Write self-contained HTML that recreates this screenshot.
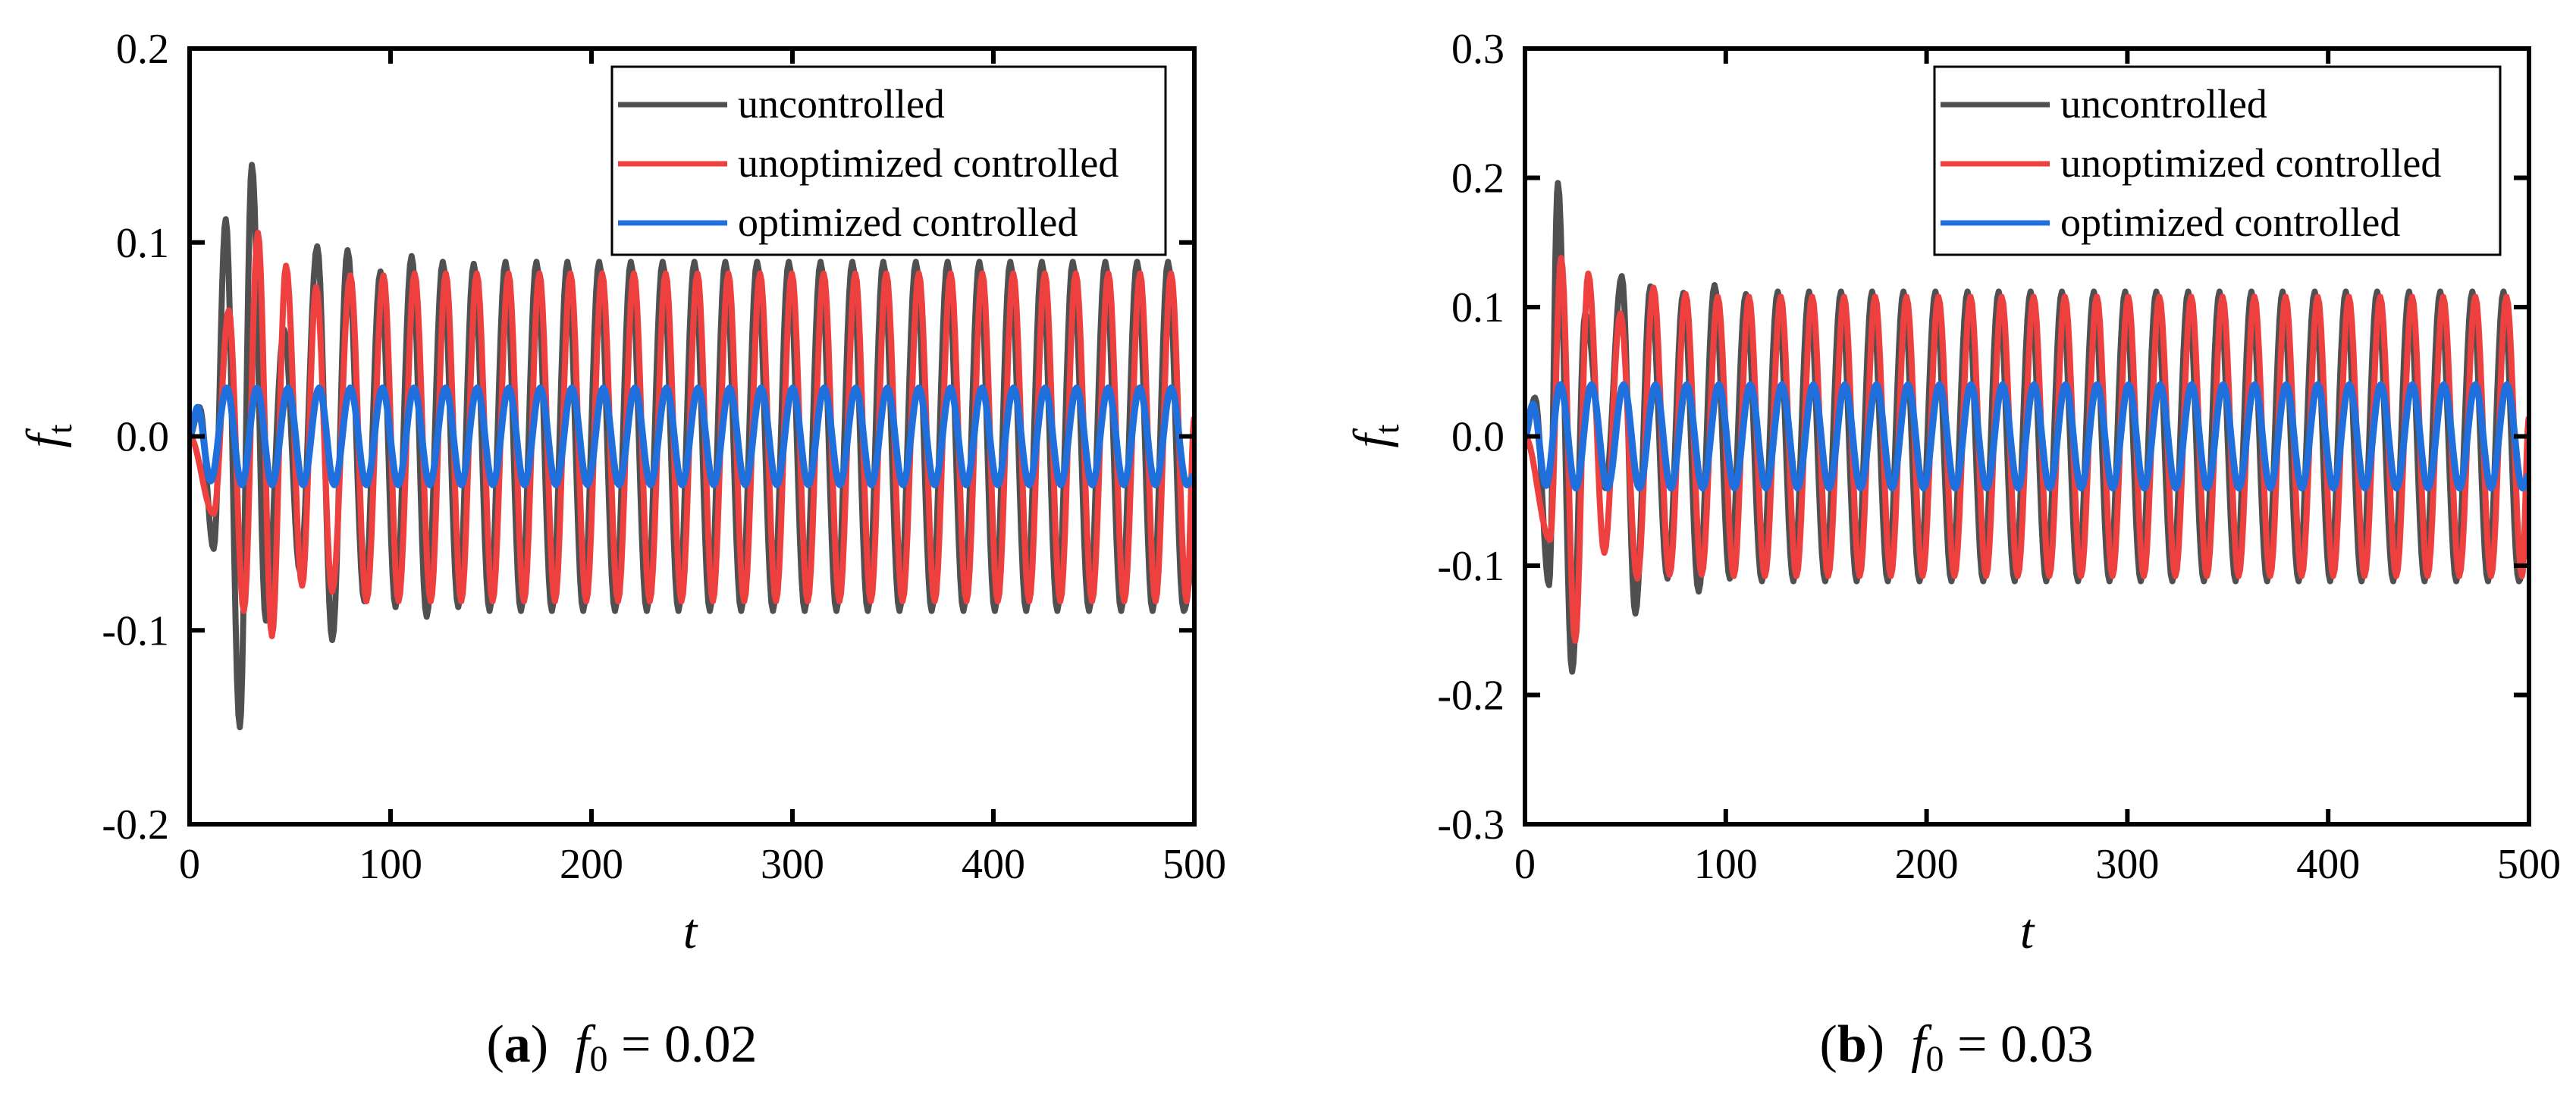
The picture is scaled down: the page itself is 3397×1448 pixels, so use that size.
<!DOCTYPE html>
<html><head><meta charset="utf-8"><style>
html,body{margin:0;padding:0;background:#fff;}
svg{display:block;font-family:"Liberation Serif",serif;}
</style></head><body>
<svg id="fig" width="3397" height="1448" viewBox="0 0 3397 1448"></svg>
<script>
// ---------- DATA (extrema) ----------
// Panel (a) f0 = 0.02
const a_unc_peakT = [5,18,31,47,63.5,78.6,95,110.5,126,141.4,157.2,172.6,188,203.8,219.6,235.4,251.2,266.6,282.4,298.2,314,329.8,345.2,361.4,377.2,393,408.4,424.1,439.5,455.7,471.5,486.9];
const a_unc_peakV = [0.015,0.112,0.14,0.055,0.098,0.096,0.085,0.093,0.09,0.089,0.09,0.09,0.09,0.09,0.09,0.09,0.09,0.09,0.09,0.09,0.09,0.09,0.09,0.09,0.09,0.09,0.09,0.09,0.09,0.09,0.09,0.09];
const a_unc_trT = [12,25,38,55,71,87,102.5,118,133.7,149.3,164.9,180.3,195.9,211.7,227.5,243.3,258.9,274.5,290.3,306.1,321.9,337.5,353.3,369.3,385.1,400.7,416.3,431.8,447.6,463.6,479.2,494.7];
const a_unc_trV = [-0.058,-0.15,-0.095,-0.07,-0.105,-0.085,-0.088,-0.093,-0.088,-0.09,-0.09,-0.09,-0.09,-0.09,-0.09,-0.09,-0.09,-0.09,-0.09,-0.09,-0.09,-0.09,-0.09,-0.09,-0.09,-0.09,-0.09,-0.09,-0.09,-0.09,-0.09,-0.09];
const a_unc_end = -0.06;

const a_uno_peakT = [19.5,34,48,63,80,96.5,112,127.5,142.9,158.7,174.1,189.5,205.3,221.1,236.9,252.7,268.1,283.9,299.7,315.5,331.3,346.7,362.9,378.7,394.5,409.9,425.6,441,457.2,473,488.4];
const a_uno_peakV = [0.065,0.105,0.088,0.077,0.083,0.083,0.084,0.084,0.084,0.084,0.084,0.084,0.084,0.084,0.084,0.084,0.084,0.084,0.084,0.084,0.084,0.084,0.084,0.084,0.084,0.084,0.084,0.084,0.084,0.084,0.084];
const a_uno_trT = [12,27,41,56,71,88,104,120,135.2,150.8,166.4,181.8,197.4,213.2,229,244.8,260.4,276,291.8,307.6,323.4,339,354.8,370.8,386.6,402.2,417.8,433.3,449.1,465.1,480.7,496.2];
const a_uno_trV = [-0.04,-0.09,-0.103,-0.077,-0.08,-0.085,-0.085,-0.085,-0.085,-0.085,-0.085,-0.085,-0.085,-0.085,-0.085,-0.085,-0.085,-0.085,-0.085,-0.085,-0.085,-0.085,-0.085,-0.085,-0.085,-0.085,-0.085,-0.085,-0.085,-0.085,-0.085,-0.085];
const a_uno_end = 0.01;

const a_opt_peakT = [4,18.5,33.5,49,64.5,80,96,111.7,127.4,143.1,158.8,174.5,190.2,205.9,221.6,237.3,253,268.7,284.4,300.1,315.8,331.5,347.2,362.9,378.6,394.3,410,425.7,441.4,457.1,472.8,488.5];
const a_opt_peakV = [0.015,0.025,0.025,0.025,0.025,0.025,0.025,0.025,0.025,0.025,0.025,0.025,0.025,0.025,0.025,0.025,0.025,0.025,0.025,0.025,0.025,0.025,0.025,0.025,0.025,0.025,0.025,0.025,0.025,0.025,0.025,0.025];
const a_opt_trT = [10.5,26,41,56.5,72,88,103.8,119.5,135.2,150.9,166.6,182.3,198,213.7,229.4,245.1,260.8,276.5,292.2,307.9,323.6,339.3,355,370.7,386.4,402.1,417.8,433.5,449.2,464.9,480.6,496.3];
const a_opt_trV = [-0.023,-0.025,-0.025,-0.025,-0.025,-0.025,-0.025,-0.025,-0.025,-0.025,-0.025,-0.025,-0.025,-0.025,-0.025,-0.025,-0.025,-0.025,-0.025,-0.025,-0.025,-0.025,-0.025,-0.025,-0.025,-0.025,-0.025,-0.025,-0.025,-0.025,-0.025,-0.025];
const a_opt_end = -0.02;

// Panel (b) f0 = 0.03
const b_unc_peakT = [5,16.4,30,48.2,62.5,78.9,94.4,110,125.9,141.5,157.4,172.9,188.5,204.4,220.4,235.9,251.8,267.4,283.3,298.9,314.4,330.3,345.9,361.8,377.3,393.3,408.8,424.4,440.3,455.8,471.8,487.3];
const b_unc_peakV = [0.03,0.196,0.095,0.124,0.116,0.111,0.117,0.11,0.112,0.112,0.112,0.112,0.112,0.112,0.112,0.112,0.112,0.112,0.112,0.112,0.112,0.112,0.112,0.112,0.112,0.112,0.112,0.112,0.112,0.112,0.112,0.112];
const b_unc_trT = [12,23.5,40,55,71,86.5,102,118,133.7,149.5,165.2,180.7,196.5,212.4,228.2,243.9,259.6,275.4,291.1,306.7,322.4,338.1,353.9,369.6,385.3,401,416.6,432.4,448,463.8,479.6,495];
const b_unc_trV = [-0.115,-0.182,-0.04,-0.137,-0.11,-0.12,-0.11,-0.112,-0.112,-0.112,-0.112,-0.112,-0.112,-0.112,-0.112,-0.112,-0.112,-0.112,-0.112,-0.112,-0.112,-0.112,-0.112,-0.112,-0.112,-0.112,-0.112,-0.112,-0.112,-0.112,-0.112,-0.112];
const b_unc_end = -0.07;

const b_uno_peakT = [18,31.5,47.5,64,80,96,111.5,127.4,143,158.9,174.4,190,205.9,221.9,237.4,253.3,268.9,284.8,300.4,315.9,331.8,347.4,363.3,378.8,394.8,410.3,425.9,441.8,457.3,473.3,488.8];
const b_uno_peakV = [0.138,0.126,0.095,0.115,0.11,0.108,0.108,0.108,0.108,0.108,0.108,0.108,0.108,0.108,0.108,0.108,0.108,0.108,0.108,0.108,0.108,0.108,0.108,0.108,0.108,0.108,0.108,0.108,0.108,0.108,0.108];
const b_uno_trT = [12.5,25,39.5,56,72,88,104,119.5,135.2,151,166.7,182.2,198,213.9,229.7,245.4,261.1,276.9,292.6,308.2,323.9,339.6,355.4,371.1,386.8,402.5,418.1,433.9,449.5,465.3,481.1,496.5];
const b_uno_trV = [-0.08,-0.158,-0.09,-0.11,-0.107,-0.107,-0.108,-0.108,-0.108,-0.108,-0.108,-0.108,-0.108,-0.108,-0.108,-0.108,-0.108,-0.108,-0.108,-0.108,-0.108,-0.108,-0.108,-0.108,-0.108,-0.108,-0.108,-0.108,-0.108,-0.108,-0.108,-0.108];
const b_uno_end = 0.015;

const b_opt_peakT = [4,17.6,33.1,49.1,65,80.5,96.5,112.2,127.9,143.6,159.3,175,190.7,206.4,222.1,237.8,253.5,269.2,284.9,300.6,316.3,332,347.7,363.4,379.1,394.8,410.5,426.2,441.9,457.6,473.3,489];
const b_opt_peakV = [0.025,0.04,0.04,0.04,0.04,0.04,0.04,0.04,0.04,0.04,0.04,0.04,0.04,0.04,0.04,0.04,0.04,0.04,0.04,0.04,0.04,0.04,0.04,0.04,0.04,0.04,0.04,0.04,0.04,0.04,0.04,0.04];
const b_opt_trT = [10.5,25.3,41.1,57,72.7,88.5,104.3,120,135.7,151.4,167.1,182.8,198.5,214.2,229.9,245.6,261.3,277,292.7,308.4,324.1,339.8,355.5,371.2,386.9,402.6,418.3,434,449.7,465.4,481.1,496.8];
const b_opt_trV = [-0.038,-0.04,-0.04,-0.04,-0.04,-0.04,-0.04,-0.04,-0.04,-0.04,-0.04,-0.04,-0.04,-0.04,-0.04,-0.04,-0.04,-0.04,-0.04,-0.04,-0.04,-0.04,-0.04,-0.04,-0.04,-0.04,-0.04,-0.04,-0.04,-0.04,-0.04,-0.04];
const b_opt_end = -0.03;

const xTicks = [0,100,200,300,400,500];
const xTickLabels = ["0","100","200","300","400","500"];
const a_yTicks = [-0.2,-0.1,0,0.1,0.2];
const a_yTickLabels = ["-0.2","-0.1","0.0","0.1","0.2"];
const b_yTicks = [-0.3,-0.2,-0.1,0,0.1,0.2,0.3];
const b_yTickLabels = ["-0.3","-0.2","-0.1","0.0","0.1","0.2","0.3"];
const legendLabels = ["uncontrolled","unoptimized controlled","optimized controlled"];

// ---------- DRAWING ----------
const NS = "http://www.w3.org/2000/svg";
const svg = document.getElementById('fig');
const COLORS = ["#505050","#ef4040","#1f6fdc"];
function mk(tag, attrs, parent){
  const e = document.createElementNS(NS, tag);
  for (const k in attrs) e.setAttribute(k, attrs[k]);
  (parent||svg).appendChild(e);
  return e;
}
function buildExtrema(pT,pV,tT,tV,endV){
  const pts=[[0,0]];
  for(let i=0;i<pT.length;i++) pts.push([pT[i],pV[i]]);
  for(let i=0;i<tT.length;i++) pts.push([tT[i],tV[i]]);
  pts.sort((p,q)=>p[0]-q[0]);
  pts.push([500,endV]);
  return pts;
}
function drawPanel(cfg){
  const g = mk('g',{});
  
  
  const L=cfg.left,R=cfg.right,T=64,B=1087;
  const xs = t => L + (t-0)/(500-0)*(R-L);
  const ys = v => B - (v-cfg.ymin)/(cfg.ymax-cfg.ymin)*(B-T);
  const clip = 'clip-'+cfg.name;
  const defs = mk('defs',{},g);
  const cp = mk('clipPath',{id:clip},defs);
  mk('rect',{x:L,y:T,width:R-L,height:B-T},cp);
  const sg = mk('g',{'clip-path':'url(#'+clip+')'},g);
  cfg.series.forEach((s,si)=>{
    const pts = buildExtrema(s[0],s[1],s[2],s[3],s[4]);
    let d='';
    for(let i=0;i<pts.length-1;i++){
      const [t0,v0]=pts[i],[t1,v1]=pts[i+1];
      const n=10;
      for(let k=(i===0?0:1);k<=n;k++){
        const u=k/n, w=(1-Math.cos(Math.PI*u))/2;
        const t=t0+(t1-t0)*u, v=v0+(v1-v0)*w;
        d+=(d?'L':'M')+xs(t).toFixed(1)+','+ys(v).toFixed(1);
      }
    }
    const p = mk('path',{d:d,fill:'none',stroke:COLORS[si],'stroke-width':si===2?9:8,'stroke-linejoin':'round'},sg);
    
    
  });
  const fr = mk('rect',{x:L,y:T,width:R-L,height:B-T,fill:'none',stroke:'#000','stroke-width':6},g);
  
  
  xTicks.forEach((t,i)=>{
    const x=xs(t);
    mk('line',{x1:x,y1:B,x2:x,y2:B-20,stroke:'#000','stroke-width':6},g);
    mk('line',{x1:x,y1:T,x2:x,y2:T+20,stroke:'#000','stroke-width':6},g);
    const tx = mk('text',{x:x,y:1158,'font-size':56,'text-anchor':'middle'},g);
    tx.textContent = xTickLabels[i];
    
    
  });
  cfg.yTicks.forEach((v,i)=>{
    const y=ys(v);
    mk('line',{x1:L,y1:y,x2:L+20,y2:y,stroke:'#000','stroke-width':6},g);
    mk('line',{x1:R,y1:y,x2:R-20,y2:y,stroke:'#000','stroke-width':6},g);
    const tx = mk('text',{x:L-27,y:y+19,'font-size':56,'text-anchor':'end'},g);
    tx.textContent = cfg.yTickLabels[i];
    
    
  });
  const xt = mk('text',{x:cfg.tx,y:1250,'font-size':66,'font-style':'italic','text-anchor':'middle'},g);
  xt.textContent='t';
  
  
  const yt = mk('text',{transform:'translate('+cfg.fx+',575) rotate(-90)','font-size':66,'text-anchor':'middle'},g);
  
  
  const f1 = mk('tspan',{'font-style':'italic'},yt); f1.textContent='f';
  const f2 = mk('tspan',{'font-size':46,dy:14},yt); f2.textContent='t';
  const lg = mk('g',{},g);
  
  
  mk('rect',{x:cfg.lx,y:88,width:cfg.lw,height:248,fill:'#fff',stroke:'#000','stroke-width':3},lg);
  legendLabels.forEach((lab,i)=>{
    const cy = 138 + i*78;
    const ln = mk('line',{x1:cfg.lx+8,y1:cy,x2:cfg.lx+152,y2:cy,stroke:COLORS[i],'stroke-width':7},lg);
    
    
    const tx = mk('text',{x:cfg.lx+166,y:cy+17,'font-size':54},lg);
    tx.textContent = lab;
    
    
  });
  const cap = mk('text',{x:cfg.cx,y:1400,'font-size':70,'text-anchor':'middle'},g);
  
  
  const c1 = mk('tspan',{},cap); c1.textContent='(';
  const c2 = mk('tspan',{'font-weight':'bold'},cap); c2.textContent=cfg.letter;
  const c3 = mk('tspan',{},cap); c3.textContent=')\u2002';
  const c4 = mk('tspan',{'font-style':'italic'},cap); c4.textContent='f';
  const c5 = mk('tspan',{'font-size':48,dy:12},cap); c5.textContent='0';
  const c6 = mk('tspan',{dy:-12},cap); c6.textContent=' = '+cfg.f0;
}
drawPanel({name:'panel-a',left:250,right:1575,ymin:-0.2,ymax:0.2,yTicks:a_yTicks,yTickLabels:a_yTickLabels,
  tx:910,fx:80,lx:807,lw:730,cx:820,letter:'a',f0:'0.02',
  series:[[a_unc_peakT,a_unc_peakV,a_unc_trT,a_unc_trV,a_unc_end],[a_uno_peakT,a_uno_peakV,a_uno_trT,a_uno_trV,a_uno_end],[a_opt_peakT,a_opt_peakV,a_opt_trT,a_opt_trV,a_opt_end]]});
drawPanel({name:'panel-b',left:2011,right:3335,ymin:-0.3,ymax:0.3,yTicks:b_yTicks,yTickLabels:b_yTickLabels,
  tx:2673,fx:1830,lx:2551,lw:746,cx:2580,letter:'b',f0:'0.03',
  series:[[b_unc_peakT,b_unc_peakV,b_unc_trT,b_unc_trV,b_unc_end],[b_uno_peakT,b_uno_peakV,b_uno_trT,b_uno_trV,b_uno_end],[b_opt_peakT,b_opt_peakV,b_opt_trT,b_opt_trV,b_opt_end]]});
</script>
</body></html>
